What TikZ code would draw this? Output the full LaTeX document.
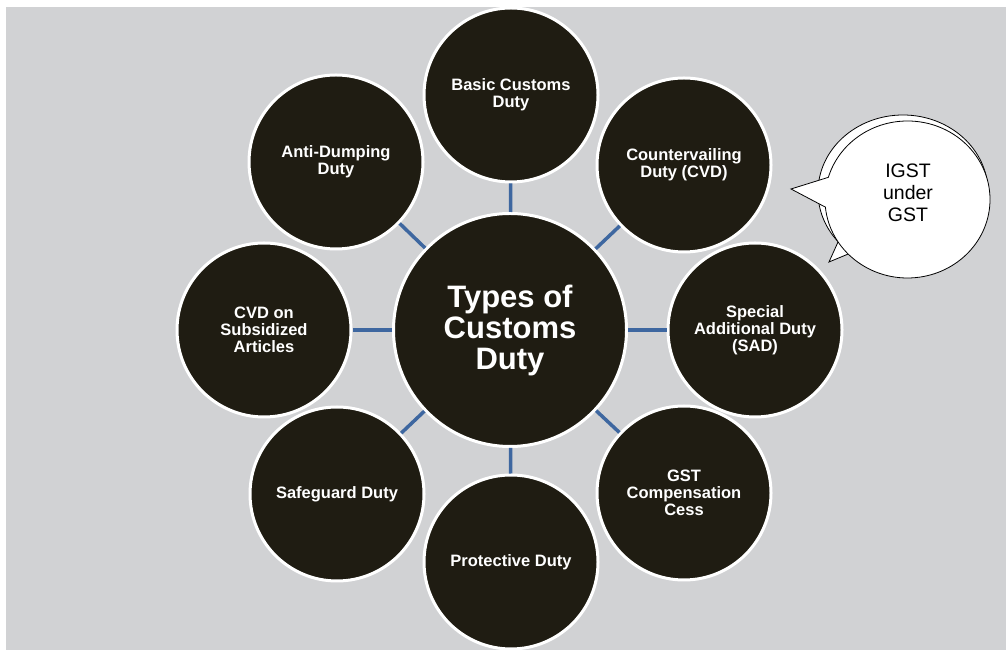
\documentclass[tikz,border=0pt]{standalone}
\usepackage{fontspec}
\setmainfont{Liberation Sans}
\usetikzlibrary{shapes.callouts}
\definecolor{bg}{HTML}{D1D2D4}
\definecolor{dark}{HTML}{1F1C12}
\definecolor{linkblue}{HTML}{3E67A0}
\begin{document}
\begin{tikzpicture}[x=1pt,y=1pt,
  hub/.style={circle,fill=dark,draw=white,line width=3pt,minimum size=233pt,inner sep=0pt,text=white,font=\bfseries\fontsize{31}{31}\selectfont,align=center},
  item/.style={circle,fill=dark,draw=white,line width=3pt,minimum size=174pt,inner sep=0pt,text=white,font=\bfseries\fontsize{16.5}{17}\selectfont,align=center},
  linkline/.style={draw=linkblue,line width=3.5pt},
  bubble/.style={ellipse callout,fill=white,draw=black,line width=0.8pt,inner sep=0pt}]
\useasboundingbox (0,0) rectangle (1006,650);
\fill[bg] (6,0) rectangle (1006,643);

\node[hub] (hub) at (510,320) {Types of\\Customs\\Duty};
\node[item] (top) at (511,555) {Basic Customs\\Duty};
\node[item] (tr) at (684,485) {Countervailing\\Duty (CVD)};
\node[item] (right) at (755,320) {Special\\Additional Duty\\(SAD)};
\node[item] (br) at (684,157) {GST\\Compensation\\Cess};
\node[item] (bottom) at (511,88) {Protective Duty};
\node[item] (bl) at (337,156) {Safeguard Duty};
\node[item] (left) at (264,320) {CVD on\\Subsidized\\Articles};
\node[item] (tl) at (336,488) {Anti-Dumping\\Duty};

\foreach \n in {top,tr,right,br,bottom,bl,left,tl}
  \draw[linkline] (hub) -- (\n);

\node[bubble,minimum width=170pt,minimum height=154pt,callout absolute pointer={(829,388)},callout pointer arc=12] (back) at (903,458) {};
\node[bubble,minimum width=165pt,minimum height=157pt,callout absolute pointer={(791,461)},callout pointer arc=22] (front) at (907.5,450.5) {};
\node[align=center,font=\fontsize{19.5}{22}\selectfont,inner sep=0pt] (igst) at (908,457) {IGST\\under\\GST};
\end{tikzpicture}
\end{document}
